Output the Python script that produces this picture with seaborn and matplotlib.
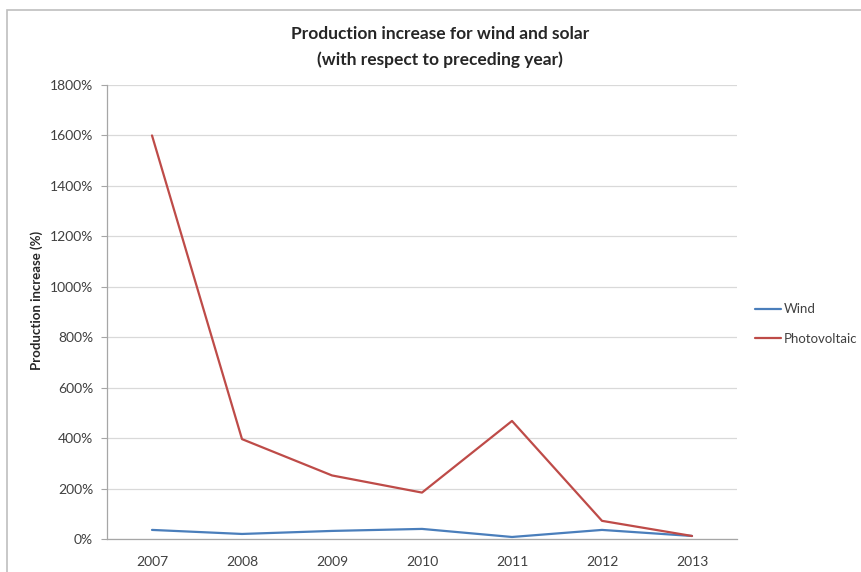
import matplotlib
matplotlib.use("Agg")
import matplotlib.pyplot as plt
from matplotlib.patches import Rectangle
from matplotlib.ticker import MultipleLocator, FuncFormatter
import pandas as pd
import seaborn as sns

years = ["2007", "2008", "2009", "2010", "2011", "2012", "2013"]
wind = [36, 20, 32, 40, 8, 36, 12]
photovoltaic = [1600, 396, 252, 184, 468, 72, 12]
series_names = ["Wind", "Photovoltaic"]
series_colors = ["#4a7ebb", "#be4b48"]

df = pd.DataFrame({
    "year": years * 2,
    "increase": wind + photovoltaic,
    "series": [series_names[0]] * len(years) + [series_names[1]] * len(years),
})

sns.set_style("white")
plt.rcParams["font.family"] = ["Lato", "DejaVu Sans"]

fig = plt.figure(figsize=(8.62, 5.72), dpi=100)
ax = fig.add_axes([107 / 862, 1 - 539 / 572, 630 / 862, 454 / 572])

sns.lineplot(data=df, x="year", y="increase", hue="series",
             palette=dict(zip(series_names, series_colors)),
             linewidth=1.6, ax=ax, sort=False)

ax.set_xlim(-0.5, len(years) - 0.5)
ax.set_ylim(0, 1800)
ax.yaxis.set_major_locator(MultipleLocator(200))
ax.yaxis.set_major_formatter(FuncFormatter(lambda v, _: f"{v:.0f}%"))
ax.grid(axis="y", color="#d9d9d9", linewidth=0.9)
ax.grid(axis="x", visible=False)
ax.set_axisbelow(True)

for side in ["top", "right"]:
    ax.spines[side].set_visible(False)
for side in ["left", "bottom"]:
    ax.spines[side].set_color("#a6a6a6")
    ax.spines[side].set_linewidth(0.9)

ax.tick_params(axis="y", length=4, width=0.8, color="#a6a6a6",
               labelsize=10, labelcolor="#404040", pad=6, left=True)
ax.tick_params(axis="x", length=0, labelsize=10, labelcolor="#404040", pad=12)

ax.set_xlabel("")
ax.set_ylabel("")
fig.text(37 / 862, 1 - 300 / 572, "Production increase (%)", rotation=90,
         ha="center", va="center", fontsize=9.5, fontweight="bold", color="#262626")

fig.text(440 / 862, 1 - 34 / 572, "Production increase for wind and solar",
         ha="center", va="center", fontsize=12.5, fontweight="bold", color="#262626")
fig.text(440 / 862, 1 - 60 / 572, "(with respect to preceding year)",
         ha="center", va="center", fontsize=12.5, fontweight="bold", color="#262626")

handles, labels = ax.get_legend_handles_labels()
ax.legend(handles, labels, loc="center left", frameon=False,
          bbox_to_anchor=(743 / 862, 1 - 324 / 572), bbox_transform=fig.transFigure,
          fontsize=9.5, handlelength=2.0, handletextpad=0.2, labelspacing=1.3,
          labelcolor="#404040")

# outer chart frame
fig.patches.append(Rectangle((7 / 862, -0.1), 1.1, (572 - 10) / 572 + 0.1,
                             transform=fig.transFigure, fill=False,
                             edgecolor="#bfbfbf", linewidth=1.2))

fig.savefig("out.png", dpi=100)
